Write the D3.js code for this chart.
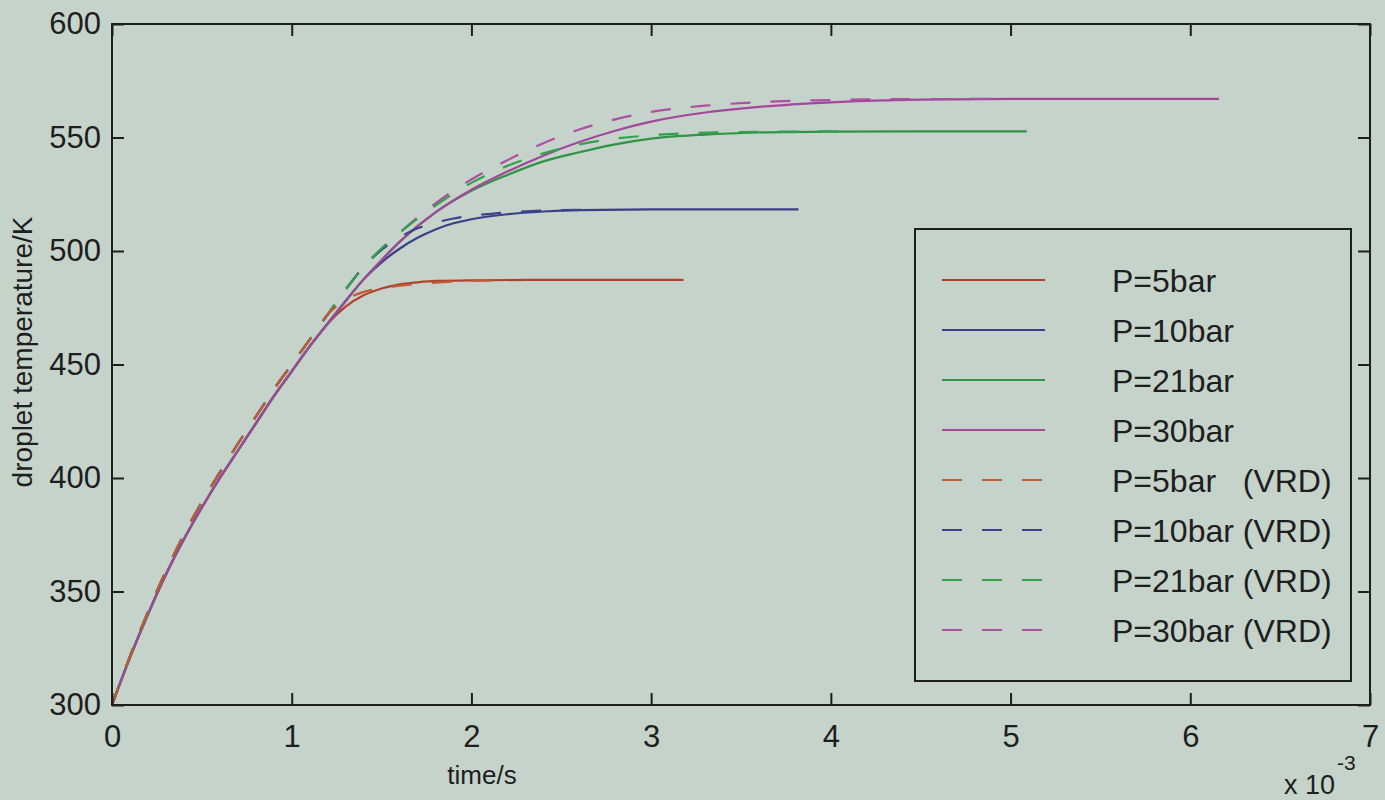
<!DOCTYPE html>
<html><head><meta charset="utf-8">
<script src="https://cdn.jsdelivr.net/npm/d3@7"></script>
<style>
body{margin:0;background:#c6d3cb;}
svg{display:block;}
text{font-family:"Liberation Sans",Arial,Helvetica,sans-serif;fill:#1e1e1e;}
</style>
</head><body>
<svg id="c" width="1385" height="800"></svg>
<script>
// ---- data (time in ms, i.e. x 10^-3 s; temperature in K) ----
const xTicks = [0,1,2,3,4,5,6,7];
const yTicks = [300,350,400,450,500,550,600];

const tEarly = [0,0.1,0.2,0.3,0.4,0.5,0.6,0.7,0.8,0.9,1.0,1.1,1.2];
const TEarlySolid  = [300,321,340,357.5,373,387,400,412,424,436,447,458,468];
const TEarlyDashed = [300,321.5,341,359,375,389.5,402.5,415,427,439,450,461,472];

const t5  = [1.3,1.4,1.5,1.6,1.7,1.8,2.0,2.5,3.18];
const T5  = [475.5,480.5,483.5,485.3,486.2,486.8,487.1,487.3,487.3];
const t10 = [1.3,1.4,1.5,1.6,1.7,1.8,1.9,2.0,2.2,2.4,2.6,3.0,3.82];
const T10 = [478,487.5,495,501,505.8,509.5,512.2,514,516.2,517.4,518,518.3,518.3];
const t21 = [1.3,1.4,1.5,1.6,1.8,2.0,2.2,2.4,2.6,2.8,3.0,3.3,3.6,4.0,4.5,5.09];
const T21 = [478,487.5,496,504,517,526.5,533.5,539.5,543.5,547,549.5,551.3,552.2,552.6,552.7,552.7];
const t30 = [1.3,1.4,1.5,1.6,1.8,2.0,2.2,2.4,2.6,2.8,3.0,3.3,3.6,4.0,4.5,5.0,6.16];
const T30 = [478,487.5,496,504,517,527,535,542,548,553,557,561,563.5,565.5,566.7,567,567];

const t5v  = [1.3,1.4,1.5,1.6,1.7,1.8,2.0,2.2];
const T5v  = [478.5,482,483.5,484.7,485.5,486.1,486.8,487.1];
const t10v = [1.3,1.4,1.5,1.6,1.7,1.8,1.9,2.0,2.2,2.4,2.7];
const T10v = [483,493,500.5,506,510,512.5,514.3,515.5,517,517.8,518.2];
const t21v = [1.3,1.4,1.6,1.8,2.0,2.2,2.4,2.6,2.8,3.0,3.4,4.04];
const T21v = [483,493,508,520,530,537.5,543,547,549.5,551,552.3,552.7];
const t30v = [1.3,1.4,1.6,1.8,2.0,2.2,2.4,2.6,2.8,3.0,3.3,3.6,4.0,4.4,4.9];
const T30v = [483,493,508,521,531.5,540,547.5,553.5,558,561.3,564,565.6,566.5,566.9,567];

const seriesNames = ["P=5bar","P=10bar","P=21bar","P=30bar",
  "P=5bar   (VRD)","P=10bar (VRD)","P=21bar (VRD)","P=30bar (VRD)"];
const seriesColors = ["#b0432e","#3b3f88","#2f9446","#a2479c",
  "#bf5a35","#3d428c","#33a04c","#ad4fa2"];

// ---- build series ----
function join(tA,TA,tB,TB){ return tA.map((t,i)=>[t,TA[i]]).concat(tB.map((t,i)=>[t,TB[i]])); }
const series = [
  {pts: join(tEarly,TEarlySolid,t5,T5),   dash:false},
  {pts: join(tEarly,TEarlySolid,t10,T10), dash:false},
  {pts: join(tEarly,TEarlySolid,t21,T21), dash:false},
  {pts: join(tEarly,TEarlySolid,t30,T30), dash:false},
  {pts: join(tEarly,TEarlyDashed,t5v,T5v),   dash:true},
  {pts: join(tEarly,TEarlyDashed,t10v,T10v), dash:true},
  {pts: join(tEarly,TEarlyDashed,t21v,T21v), dash:true},
  {pts: join(tEarly,TEarlyDashed,t30v,T30v), dash:true}
];
const drawOrder = [0,1,2,3,7,5,6,4];

const L=112, R=1370, T=24, B=705;
const svg = d3.select("#c");
const x = d3.scaleLinear().domain([0,7]).range([L,R]);
const y = d3.scaleLinear().domain([300,600]).range([B,T]);

const line = d3.line().x(d=>x(d[0])).y(d=>y(d[1])).curve(d3.curveMonotoneX);
const plot = svg.append("g");
drawOrder.forEach(i=>{
  const s = series[i];
  plot.append("path").attr("d",line(s.pts)).attr("fill","none")
    .attr("stroke",seriesColors[i]).attr("stroke-width",2.2)
    .attr("stroke-dasharray", s.dash ? "20,20" : null);
});

// ---- axes (ticks inside, all four sides) ----
const tickLen = 12;
const axB = svg.append("g").attr("transform",`translate(0,${B})`)
  .call(d3.axisBottom(x).tickValues(xTicks).tickSize(-tickLen).tickPadding(20).tickFormat(d3.format("d")));
const axT = svg.append("g").attr("transform",`translate(0,${T})`)
  .call(d3.axisTop(x).tickValues(xTicks).tickSize(-tickLen).tickFormat(""));
const axL = svg.append("g").attr("transform",`translate(${L},0)`)
  .call(d3.axisLeft(y).tickValues(yTicks).tickSize(-tickLen).tickPadding(11).tickFormat(d3.format("d")));
const axR = svg.append("g").attr("transform",`translate(${R},0)`)
  .call(d3.axisRight(y).tickValues(yTicks).tickSize(-tickLen).tickFormat(""));
[axB,axT,axL,axR].forEach(a=>{
  a.select(".domain").remove();
  a.selectAll(".tick line").attr("stroke","#1e1e1e").attr("stroke-width",2);
  a.selectAll("text").attr("font-size",31).attr("fill","#1e1e1e")
    .style("font-family",'"Liberation Sans",Arial,sans-serif');
});
axB.selectAll("text").attr("dy","0.71em");
svg.append("rect").attr("x",L).attr("y",T).attr("width",R-L).attr("height",B-T)
  .attr("fill","none").attr("stroke","#1e1e1e").attr("stroke-width",2);

// ---- axis labels ----
svg.append("text").attr("x",482).attr("y",784).attr("text-anchor","middle")
  .attr("font-size",26).text("time/s");
svg.append("text").attr("transform","translate(32,352) rotate(-90)").attr("text-anchor","middle")
  .attr("font-size",28).text("droplet temperature/K");
const ex = svg.append("text").attr("x",1284).attr("y",794).attr("font-size",27);
ex.append("tspan").text("x 10");
ex.append("tspan").attr("dy",-24).attr("dx",2).attr("font-size",21).text("-3");

// ---- legend ----
const lg = svg.append("g");
lg.append("rect").attr("x",915).attr("y",229).attr("width",436).attr("height",452)
  .attr("fill","none").attr("stroke","#1e1e1e").attr("stroke-width",2);
seriesNames.forEach((n,i)=>{
  const yy = 280 + i*50;
  lg.append("line").attr("x1",942).attr("x2",1045).attr("y1",yy).attr("y2",yy)
    .attr("stroke",seriesColors[i]).attr("stroke-width",2.2)
    .attr("stroke-dasharray", series[i].dash ? "20,20" : null);
  lg.append("text").attr("x",1112).attr("y",yy).attr("dy","0.36em")
    .attr("font-size",32).style("white-space","pre").attr("xml:space","preserve").text(n);
});
</script>
</body></html>
